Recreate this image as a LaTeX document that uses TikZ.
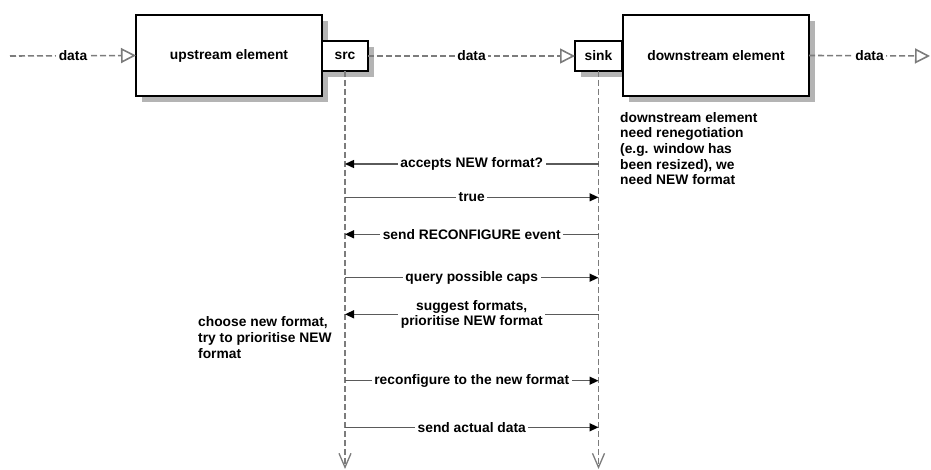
\documentclass[tikz,border=0pt]{standalone}
\usepackage{fontspec}
\setmainfont{Liberation Sans}
\usetikzlibrary{arrows.meta,shadows}

\definecolor{flowgray}{HTML}{7C7C7C}
\definecolor{msggray}{HTML}{5A5A5A}
\definecolor{shadowgray}{HTML}{B4B4B4}

\tikzset{
  txt/.style={font=\fontsize{13.8}{15.6}\selectfont\bfseries},
  element/.style={draw=black, line width=2pt, fill=white, txt,
    inner sep=0pt, outer sep=0pt,
    drop shadow={shadow xshift=6pt, shadow yshift=-6pt,
                 fill=shadowgray, opacity=1}},
  flow/.style={draw=flowgray, line width=1.6pt, dash pattern=on 6pt off 3pt},
  flowtip/.style={flow, -{Triangle[open, length=15pt, width=15pt, fill=white]}},
  lifeline/.style={flow, -{Straight Barb[length=14pt, width=12pt, line width=1.3pt]}},
  msg/.style={draw=msggray, line width=1.4pt,
    -{Triangle[length=9pt, width=8pt, black]}},
  tag/.style={txt, fill=white, inner sep=2.5pt, text=black},
  note/.style={txt, align=left, inner sep=0pt, anchor=west},
}

\begin{document}
\begin{tikzpicture}[x=1pt, y=-1pt]
  \useasboundingbox (0,0) rectangle (931,470);

  % elements and their pads
  \node[element, minimum width=186pt, minimum height=81pt] (up) at (229,55.5) {upstream element};
  \node[element, minimum width=46pt, minimum height=30pt] (src) at (345,56) {src};
  \node[element, minimum width=47pt, minimum height=30pt] (sink) at (598.5,56) {sink};
  \node[element, minimum width=186pt, minimum height=81pt] (down) at (716,55.5) {downstream element};

  % data flow through the pipeline
  \coordinate (inL) at (10,56);
  \coordinate (outR) at (930,56);
  \draw[flowtip] (inL) -- node[tag] {data} (up.west);
  \draw[flowtip] (src.east) -- node[tag] {data} (sink.west);
  \draw[flowtip] (down.east) -- node[tag] {data} (outR);

  % lifelines of the two pads
  \coordinate (srcEnd) at (345,469);
  \coordinate (sinkEnd) at (598.5,469);
  \draw[lifeline] (src.south) -- (srcEnd);
  \draw[lifeline] (sink.south) -- (sinkEnd);

  % message anchors on the lifelines
  \foreach \n/\y in {1/164, 2/197.3, 3/234.3, 4/277.7, 5/314.3, 6/380.7, 7/427.3} {
    \coordinate (s\n) at (345,\y);
    \coordinate (k\n) at (598.5,\y);
  }

  % negotiation sequence
  \draw[msg] (k1) -- node[tag] {accepts NEW format?} (s1);
  \draw[msg] (s2) -- node[tag] {true} (k2);
  \draw[msg] (k3) -- node[tag] {send RECONFIGURE event} (s3);
  \draw[msg] (s4) -- node[tag] {query possible caps} (k4);
  \draw[msg] (k5) -- node[tag, align=center] {suggest formats,\\prioritise NEW format} (s5);
  \draw[msg] (s6) -- node[tag] {reconfigure to the new format} (k6);
  \draw[msg] (s7) -- node[tag] {send actual data} (k7);

  % side notes
  \node[note] (downnote) at (620,148.5)
    {downstream element\\need renegotiation\\(e.g. window has\\been resized), we\\need NEW format};
  \node[note] (srcnote) at (198,337.5)
    {choose new format,\\try to prioritise NEW\\format};
\end{tikzpicture}
\end{document}
